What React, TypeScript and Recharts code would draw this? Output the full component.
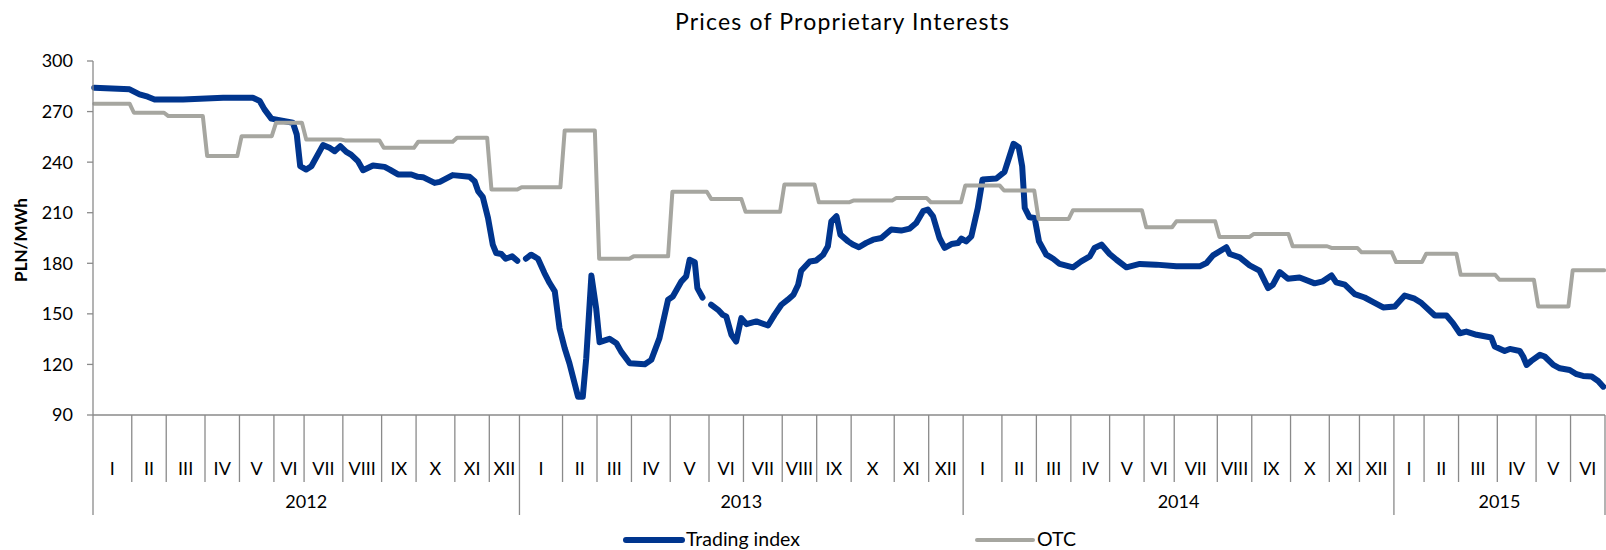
import { Line, LineChart, XAxis, YAxis } from "recharts"

const years = ["2012", "2013", "2014", "2015"]
const romanMonths = ["I", "II", "III", "IV", "V", "VI", "VII", "VIII", "IX", "X", "XI", "XII"]

// observation slots per month (sets the width of each month on the axis)
const slots2012 = [9, 8, 9, 8, 8, 7, 9, 9, 8, 9, 8, 7]
const slots2013 = [10, 8, 8, 9, 9, 8, 9, 8, 8, 10, 8, 8]
const slots2014 = [9, 8, 8, 9, 8, 7, 10, 8, 9, 9, 7, 8]
const slots2015 = [7, 8, 9, 9, 8, 8]

const yTicks = [90, 120, 150, 180, 210, 240, 270, 300]

// [slot position, PLN/MWh]; null = missing quote
const tradingIndex: [number, number | null][] = [
  [0.3, 284.2], [8.5, 283.2], [10.8, 280.2], [12.7, 278.8], [14.3, 277.2], [20.9, 277.2], [30.2, 278.2],
  [37.1, 278.2], [38.7, 276.3], [39.8, 271.3], [41.4, 265.8], [46.4, 263.4], [47.3, 256.4], [48.1, 237.6],
  [49.5, 235.6], [50.7, 237.6], [53.4, 250.1], [54.9, 248.5], [56.1, 246.5], [57.4, 249.5], [58.8, 246.1],
  [59.9, 244.5], [61.5, 240.6], [62.7, 235.2], [65.0, 238.0], [67.7, 237.2], [68.9, 235.6], [70.8, 232.7],
  [73.9, 232.7], [75.4, 231.3], [76.6, 231.1], [79.3, 227.7], [80.5, 228.3], [83.5, 232.3], [87.4, 231.3],
  [88.6, 228.7], [89.4, 222.8], [90.5, 219.2], [91.7, 206.9], [92.8, 191.1], [93.6, 186.1], [94.8, 185.5],
  [95.8, 182.7], [97.3, 184.1], [98.5, 181.5],
  [99.5, null],
  [100.5, 182.7], [101.7, 185.1], [103.3, 182.7], [104.8, 174.2], [106.0, 168.3], [107.2, 163.3],
  [108.3, 141.5], [109.5, 129.6], [110.6, 120.7], [112.6, 100.9], [113.7, 100.9], [114.5, 123.7],
  [115.7, 172.7], [116.8, 153.4], [117.6, 133.2], [119.9, 135.2], [121.5, 132.6], [122.6, 127.6],
  [124.6, 120.7], [128.1, 120.1], [129.6, 122.7], [131.5, 135.6], [133.5, 158.4], [134.6, 160.3],
  [136.6, 169.3], [137.7, 172.2], [138.5, 182.1], [139.7, 180.7], [140.3, 165.3], [141.5, 159.7],
  [142.5, null],
  [143.5, 155.4], [145.1, 152.4], [146.2, 149.4], [147.0, 148.5], [148.2, 137.6], [149.3, 133.6],
  [150.5, 147.5], [151.7, 143.9], [154.0, 145.5], [156.7, 143.1], [158.2, 149.4], [159.8, 155.4],
  [161.3, 158.4], [162.6, 161.3], [163.7, 167.3], [164.4, 175.6], [166.4, 181.1], [167.9, 181.7],
  [169.5, 185.1], [170.6, 190.1], [171.4, 204.9], [172.6, 207.9], [173.5, 197.0], [175.3, 193.0],
  [176.4, 191.1], [177.8, 189.5], [179.5, 192.1], [181.1, 194.0], [183.0, 195.0], [185.3, 200.0],
  [187.6, 199.4], [189.6, 200.6], [191.1, 203.9], [192.7, 210.9], [193.8, 211.9], [195.0, 207.9],
  [196.5, 195.0], [197.7, 189.1], [199.3, 191.4], [200.8, 192.0], [201.6, 194.6], [202.7, 193.0],
  [203.9, 196.0], [205.4, 212.8], [206.5, 229.7], [209.7, 230.3], [211.6, 234.2], [213.7, 250.9],
  [214.9, 248.9], [215.7, 237.6], [216.3, 212.8], [217.4, 207.3], [218.6, 206.9], [219.6, 193.0],
  [221.3, 185.1], [222.9, 182.7], [224.4, 179.6], [227.5, 177.6], [229.4, 181.1], [231.4, 184.1],
  [232.5, 189.1], [234.1, 191.1], [236.0, 185.5], [237.6, 182.1], [239.9, 177.6], [243.0, 179.6],
  [246.8, 179.2], [251.5, 178.2], [256.9, 178.2], [258.5, 180.2], [260.0, 184.7], [263.1, 189.5],
  [263.9, 185.5], [266.2, 183.5], [268.5, 178.8], [270.8, 175.6], [272.8, 165.3], [273.9, 167.3],
  [275.5, 174.8], [277.4, 170.8], [280.1, 171.6], [283.6, 168.1], [285.5, 169.3], [287.5, 172.8],
  [288.6, 168.7], [290.6, 167.3], [292.9, 161.7], [295.2, 159.7], [297.2, 157.0], [299.5, 153.8],
  [302.2, 154.4], [304.5, 160.9], [306.8, 159.0], [308.4, 156.4], [311.5, 149.0], [314.2, 149.0],
  [315.7, 144.5], [317.3, 138.5], [318.8, 139.5], [321.2, 137.6], [324.6, 136.0], [325.4, 130.6],
  [327.7, 128.0], [328.9, 129.2], [331.2, 128.0], [332.0, 124.7], [332.8, 119.7], [333.9, 122.1],
  [335.9, 125.7], [337.0, 124.7], [339.0, 119.7], [340.5, 117.7], [342.8, 116.7], [344.4, 114.2],
  [345.9, 113.2], [347.9, 112.8], [349.4, 110.2], [350.6, 106.8],
]

const otc: [number, number][] = [
  [0.3, 274.7], [8.5, 274.7], [9.5, 269.3], [16.5, 269.3], [17.5, 267.3], [25.5, 267.3], [26.5, 243.6],
  [33.5, 243.6], [34.5, 255.4], [41.5, 255.4], [42.5, 263.4], [48.5, 263.4], [49.5, 253.4], [57.5, 253.4],
  [58.5, 252.9], [66.5, 252.9], [67.5, 248.5], [74.5, 248.5], [75.5, 252.1], [83.5, 252.1], [84.5, 254.5],
  [91.5, 254.5], [92.5, 223.7], [98.5, 223.7], [99.5, 225.1], [108.5, 225.1], [109.5, 258.8],
  [116.5, 258.8], [117.5, 182.7], [124.5, 182.7], [125.5, 184.1], [133.5, 184.1], [134.5, 222.4],
  [142.5, 222.4], [143.5, 218.2], [150.5, 218.2], [151.5, 210.5], [159.5, 210.5], [160.5, 226.7],
  [167.5, 226.7], [168.5, 216.2], [175.5, 216.2], [176.5, 217.2], [185.5, 217.2], [186.5, 218.8],
  [193.5, 218.8], [194.5, 216.2], [201.5, 216.2], [202.5, 226.1], [210.5, 226.1], [211.5, 223.2],
  [218.5, 223.2], [219.5, 206.3], [226.5, 206.3], [227.5, 211.5], [243.5, 211.5], [244.5, 201.4],
  [250.5, 201.4], [251.5, 204.9], [260.5, 204.9], [261.5, 195.6], [268.5, 195.6], [269.5, 197.4],
  [277.5, 197.4], [278.5, 190.1], [286.5, 190.1], [287.5, 189.1], [293.5, 189.1], [294.5, 186.5],
  [301.5, 186.5], [302.5, 180.7], [308.5, 180.7], [309.5, 185.7], [316.5, 185.7], [317.5, 173.2],
  [325.5, 173.2], [326.5, 170.2], [334.5, 170.2], [335.5, 154.4], [342.5, 154.4], [343.5, 175.8],
  [350.8, 175.8],
]

const series = [
  { name: "Trading index", points: tradingIndex, color: "#00358e", width: 6 },
  { name: "OTC", points: otc, color: "#a6a6a0", width: 4 },
]

const axisColor = "#8a8a8a"
const font = "Lato, 'Open Sans', sans-serif"

type TickInfo = { kind: "bound" | "yearBound" | "month" | "year"; label?: string }
const tickInfo = new Map<number, TickInfo>()
let total = 0
;[slots2012, slots2013, slots2014, slots2015].forEach((slots, yi) => {
  const start = total
  tickInfo.set(total, { kind: "yearBound" })
  slots.forEach((n, mi) => {
    if (mi > 0) tickInfo.set(total, { kind: "bound" })
    tickInfo.set(total + n / 2, { kind: "month", label: romanMonths[mi] })
    total += n
  })
  tickInfo.set((start + total) / 2, { kind: "year", label: years[yi] })
})
tickInfo.set(total, { kind: "yearBound" })
const xTicks = [...tickInfo.keys()].sort((a, b) => a - b)

function AxisTick(props: any) {
  const { x, y, payload } = props
  const info = tickInfo.get(payload.value)
  if (!info) return null
  if (info.kind === "bound" || info.kind === "yearBound") {
    return (
      <line x1={x} x2={x} y1={y} y2={y + (info.kind === "bound" ? 67 : 100)} stroke={axisColor} strokeWidth={1.3} />
    )
  }
  return (
    <text x={x} y={y + (info.kind === "month" ? 60 : 93)} textAnchor="middle" fontFamily={font} fontSize={18} fill="#000">
      {info.label}
    </text>
  )
}

const legendX = [626, 977]

export default function App() {
  return (
    <div style={{ position: "absolute", left: 0, top: 0, width: 1606, height: 550, background: "#fff" }}>
      <LineChart width={1606} height={550} margin={{ top: 61, right: 1, bottom: 30, left: 0 }}>
        <XAxis
          type="number"
          dataKey="x"
          domain={[0, total]}
          ticks={xTicks}
          interval={0}
          height={105}
          tickSize={0}
          tickMargin={0}
          tickLine={false}
          axisLine={{ stroke: axisColor, strokeWidth: 1.3 }}
          tick={<AxisTick />}
        />
        <YAxis
          type="number"
          domain={[90, 300]}
          ticks={yTicks}
          interval={0}
          width={93}
          tickSize={6}
          tickMargin={14}
          axisLine={{ stroke: axisColor, strokeWidth: 1.3 }}
          tickLine={{ stroke: axisColor, strokeWidth: 1.3 }}
          tick={{ fill: "#000", fontSize: 18, fontFamily: font }}
        />
        {series.map((s) => (
          <Line
            key={s.name}
            name={s.name}
            data={s.points.map(([x, v]) => ({ x, v }))}
            dataKey="v"
            type="linear"
            stroke={s.color}
            strokeWidth={s.width}
            strokeLinejoin="round"
            strokeLinecap="round"
            dot={false}
            activeDot={false}
            isAnimationActive={false}
          />
        ))}
      </LineChart>
      <svg width={1606} height={550} style={{ position: "absolute", left: 0, top: 0, pointerEvents: "none" }}>
        <text x={842} y={30} textAnchor="middle" fontFamily={font} fontSize={23} fill="#000" textLength={334} lengthAdjust="spacing">
          Prices of Proprietary Interests
        </text>
        <text
          x={20}
          y={240}
          transform="rotate(-90 20 240)"
          textAnchor="middle"
          dominantBaseline="central"
          fontFamily={font}
          fontWeight="bold"
          fontSize={17}
          fill="#000"
        >
          PLN/MWh
        </text>
        {series.map((s, i) => (
          <g key={s.name}>
            <line
              x1={legendX[i]}
              x2={legendX[i] + 56}
              y1={540}
              y2={540}
              stroke={s.color}
              strokeWidth={s.width}
              strokeLinecap="round"
            />
            <text x={legendX[i] + 60} y={546} fontFamily={font} fontSize={19.5} fill="#000">
              {s.name}
            </text>
          </g>
        ))}
      </svg>
    </div>
  )
}
